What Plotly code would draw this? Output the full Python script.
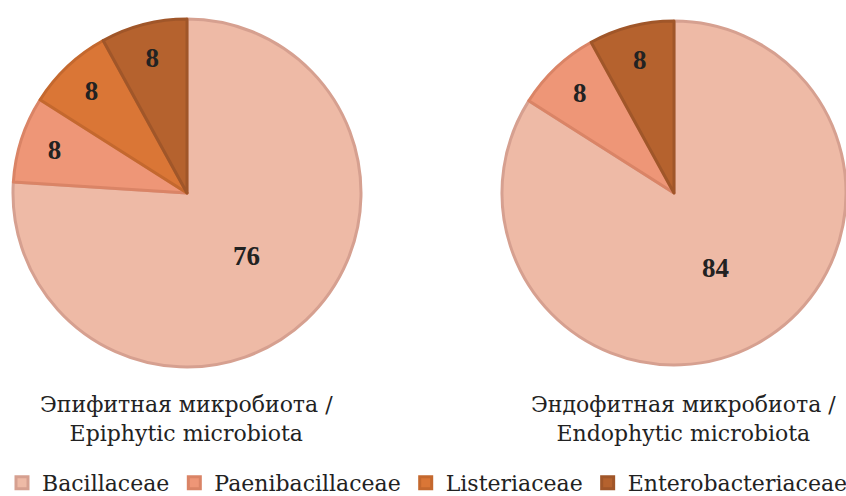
import plotly.graph_objects as go

W, H = 846, 496

categories = ["Bacillaceae", "Paenibacillaceae", "Listeriaceae", "Enterobacteriaceae"]
epiphytic_values = [76, 8, 8, 8]
endophytic_categories = ["Bacillaceae", "Paenibacillaceae", "Enterobacteriaceae"]
endophytic_values = [84, 8, 8]
title_epi = ["Эпифитная микробиота /", "Epiphytic microbiota"]
title_endo = ["Эндофитная микробиота /", "Endophytic microbiota"]

fill = {
    "Bacillaceae": "#EEBAA6",
    "Paenibacillaceae": "#EE9677",
    "Listeriaceae": "#DA7636",
    "Enterobacteriaceae": "#B5622E",
}
edge = {
    "Bacillaceae": "#D6A090",
    "Paenibacillaceae": "#DA8466",
    "Listeriaceae": "#C4682E",
    "Enterobacteriaceae": "#A05629",
}

VAL_FONT = "Liberation Serif"
TXT_FONT = "DejaVu Serif"


def px_x(x):
    return x / W


def px_y(y):
    return 1 - y / H


def pie(labels, values, domain_x, domain_y, show):
    return go.Pie(
        labels=labels,
        values=values,
        sort=False,
        direction="clockwise",
        rotation=0,
        domain=dict(x=domain_x, y=domain_y),
        marker=dict(colors=[fill[c] for c in labels],
                    line=dict(color=[edge[c] for c in labels], width=3)),
        texttemplate="<b>%{value}</b>",
        textposition="inside",
        insidetextorientation="horizontal",
        textfont=dict(family=VAL_FONT, size=27, color="#222222"),
        showlegend=show,
        hoverinfo="label+value",
    )


fig = go.Figure()
fig.add_trace(pie(categories, epiphytic_values,
                  [px_x(13), px_x(361)], [px_y(367), px_y(19)], True))
fig.add_trace(pie(endophytic_categories, endophytic_values,
                  [px_x(502), 1.0], [px_y(367), px_y(19)], True))

annotations = []
for lines, cx in ((title_epi, 186), (title_endo, 683)):
    annotations.append(dict(
        text="<br>".join(lines), x=px_x(cx), y=px_y(419), xref="paper", yref="paper",
        xanchor="center", yanchor="middle", showarrow=False, align="center",
        font=dict(family=TXT_FONT, size=22, color="#222222"),
    ))

fig.update_layout(
    width=W, height=H,
    margin=dict(l=0, r=0, t=0, b=0, autoexpand=False),
    paper_bgcolor="white",
    plot_bgcolor="white",
    annotations=annotations,
    legend=dict(
        orientation="h", x=px_x(2), y=-0.016, xanchor="left", yanchor="bottom",
        font=dict(family=TXT_FONT, size=22, color="#222222"),
        traceorder="normal",
    ),
)

fig.write_html("out.html", config={"displayModeBar": False},
               post_script="document.body.style.margin='0px';")
